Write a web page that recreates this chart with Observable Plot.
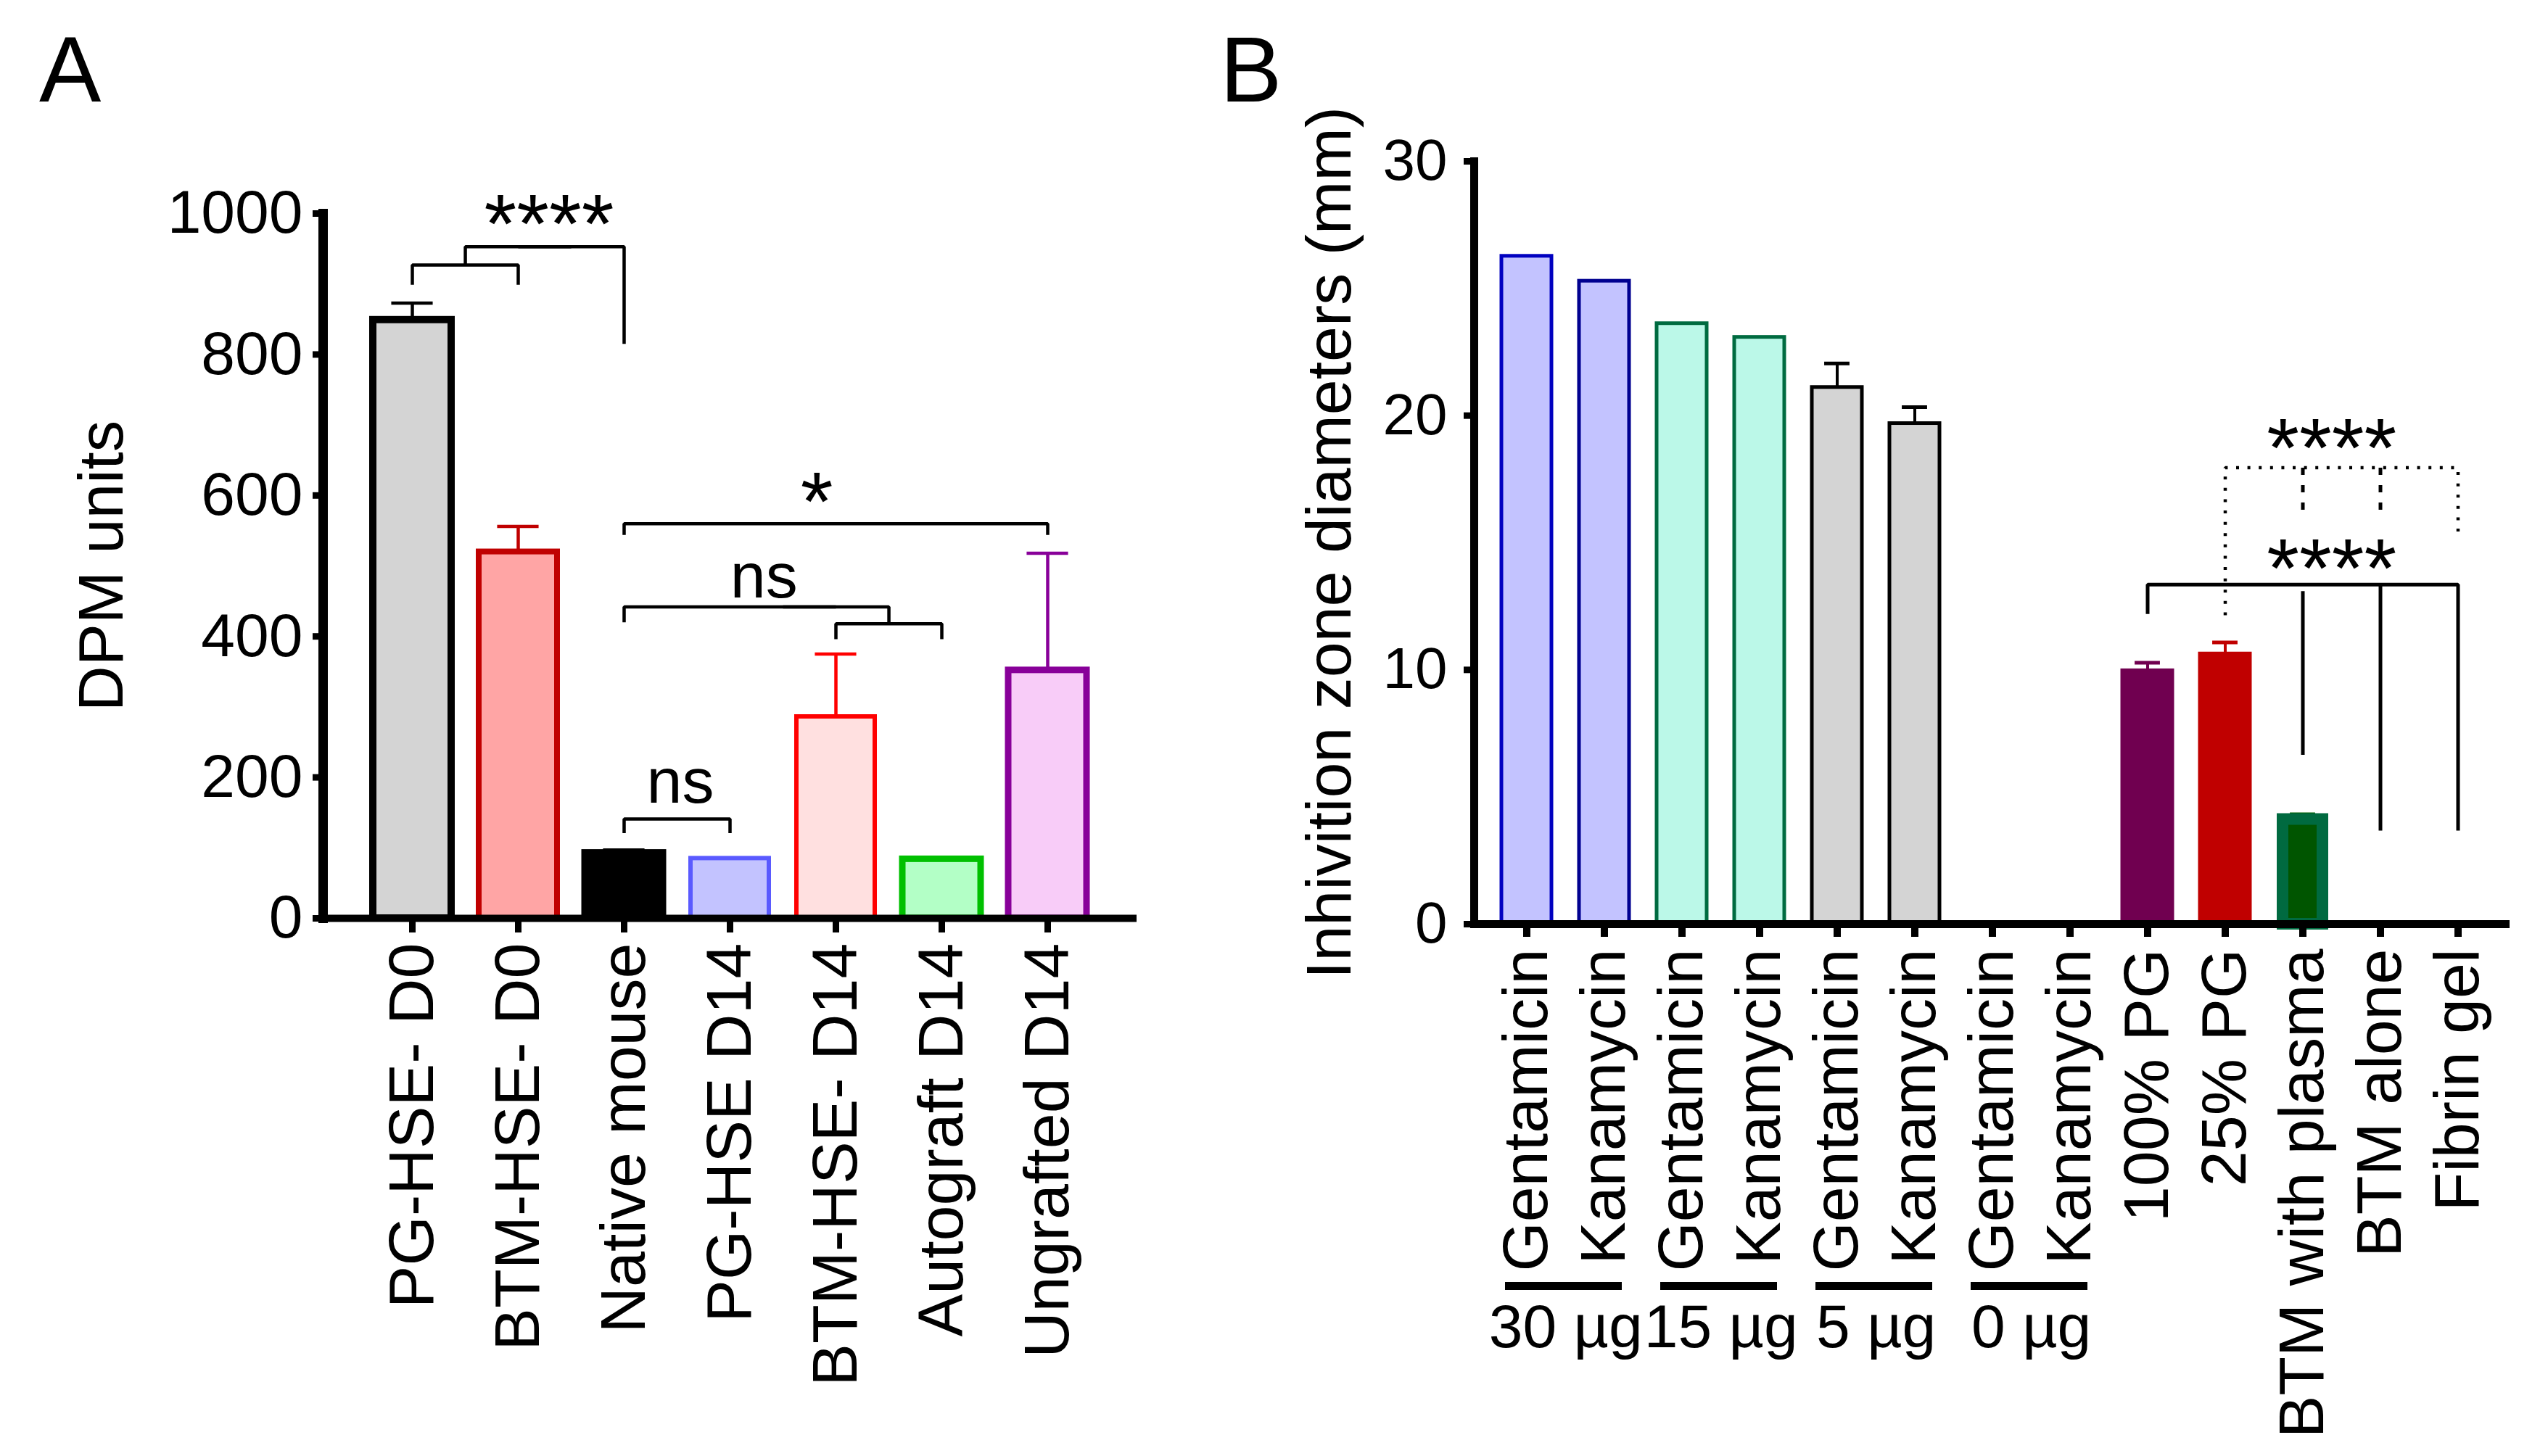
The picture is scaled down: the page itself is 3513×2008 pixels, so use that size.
<!DOCTYPE html>
<html>
<head>
<meta charset="utf-8">
<script src="https://cdn.jsdelivr.net/npm/d3@7"></script>
<script src="https://cdn.jsdelivr.net/npm/@observablehq/plot@0.6"></script>
<style>
  body { margin: 0; background: #fff; }
  #fig { position: relative; width: 3513px; height: 2008px; background: #fff;
         font-family: "Liberation Sans", Arial, sans-serif; }
  #fig svg { position: absolute; top: 0; max-width: none; }
  .panel { position: absolute; font-size: 128px; line-height: 1; }
</style>
</head>
<body>
<div id="fig">
  <div class="panel" style="left:54px;top:32px">A</div>
  <div class="panel" style="left:1682px;top:32px">B</div>
</div>
<script>
const font = '"Liberation Sans", Arial, sans-serif'

// ---- Panel A : DPM units
const namesA = ["PG-HSE- D0", "BTM-HSE- D0", "Native mouse", "PG-HSE D14", "BTM-HSE- D14", "Autograft D14", "Ungrafted D14"]
const meanA = [849, 520, 93, 85, 286, 84, 352]
const errA = [24, 36, 4, 0, 89, 0, 166]
const ticksA = [0, 200, 400, 600, 800, 1000]
const fillA = ["#d4d4d4", "#ffa5a5", "#000000", "#c3c3ff", "#ffe0e0", "#b3ffc6", "#f8ccf8"]
const strokeA = ["#000000", "#c00000", "#000000", "#5a5aff", "#ff0000", "#00c000", "#880099"]
const lineA = [10, 8, 9, 6, 6, 9, 9]

// brackets, as [category index, DPM] vertices
const bracketsA = [
  [[0, 899], [0, 927], [1, 927], [1, 899]],
  [[1, 953], [2, 953], [2, 815]],
  [[2, 544], [2, 560], [6, 560], [6, 544]],
  [[2, 420], [2, 442], [4, 442]],
  [[4, 396], [4, 418], [5, 418], [5, 396]],
  [[2, 121], [2, 141], [3, 141], [3, 121]]
]
// these ones sit half a category to the right
const halfBracketsA = [
  [[0, 927], [0, 953], [1, 953]],
  [[3, 442], [4, 442], [4, 418]]
]
const notesA = [
  {text: "****", at: 1, shift: 0.29, y: 945, size: 115},
  {text: "*", at: 4, shift: -0.18, y: 551, size: 115},
  {text: "ns", at: 3, shift: 0.32, y: 455, size: 88},
  {text: "ns", at: 2, shift: 0.53, y: 164, size: 88}
]

// ---- Panel B : inhibition zones
const keysB = ["G30", "K30", "G15", "K15", "G5", "K5", "G0", "K0", "PG100", "PG25", "BTMp", "BTMa", "Fib"]
const labelsB = ["Gentamicin", "Kanamycin", "Gentamicin", "Kanamycin", "Gentamicin", "Kanamycin", "Gentamicin", "Kanamycin", "100% PG", "25% PG", "BTM with plasma", "BTM alone", "Fibrin gel"]
const meanB = [26.27, 25.29, 23.62, 23.08, 21.11, 19.69, 0, 0, 9.97, 10.63, 4.12, 0, 0]
const errB = [0, 0, 0, 0, 0.94, 0.64, 0, 0, 0.31, 0.45, 0.2, 0, 0]
const doseB = ["30 µg", "15 µg", "5 µg", "0 µg"]
const ticksB = [0, 10, 20, 30]
const fillB = ["#c3c3ff", "#c3c3ff", "#bbf8e8", "#bbf8e8", "#d4d4d4", "#d4d4d4", "none", "none", "#700050", "#c00000", "#005500", "none", "none"]
const strokeB = ["#0000c0", "#000090", "#006b40", "#006b40", "#000000", "#000000", "#000000", "#000000", "#700050", "#c00000", "#006a40", "#000000", "#000000"]
const errColB = ["#000", "#000", "#000", "#000", "#000", "#000", "#000", "#000", "#700050", "#c00000", "#006000", "#000", "#000"]

const bracketsB = [
  [[8, 12.2], [8, 13.35], [12, 13.35], [12, 3.68]],
  [[10, 13.1], [10, 6.66]],
  [[11, 13.35], [11, 3.68]]
]
const dottedB = [[[9, 12.15], [9, 17.95], [12, 17.95], [12, 15.27]]]
const dashedB = [[[10, 17.95], [10, 16.22]], [[11, 17.95], [11, 16.22]]]
const notesB = [
  {text: "****", at: 10, shift: 0.37, y: 17.62, size: 115},
  {text: "****", at: 10, shift: 0.37, y: 12.88, size: 115}
]

const pts = (lines, names) => lines.flatMap((l, j) => l.map(([i, v]) => ({x: names[i], y: v, z: j})))
const seg = {x: "x", y: "y", z: "z", stroke: "black", strokeLinecap: "butt", strokeLinejoin: "miter"}

// band geometry, only used for offsets of caps and half steps
const pinA = 0.262, poutA = 0.47
const stepA = (1700 - 445 - 133) / (namesA.length - pinA + 2 * poutA)
const bwA = stepA * (1 - pinA)
const pinB = 0.356, poutB = 0.33
const stepB = (1813 - 332 - 53) / (keysB.length - pinB + 2 * poutB)
const bwB = stepB * (1 - pinB)

const rowsA = namesA.map((name, i) => ({name, mean: meanA[i], top: meanA[i] + errA[i], fill: fillA[i], stroke: strokeA[i], sw: lineA[i]}))
const errRowsA = rowsA.filter(d => d.top > d.mean)

let chartA = Plot.plot({
  width: 1700, height: 2008,
  marginLeft: 445, marginRight: 133, marginTop: 294, marginBottom: 742,
  style: {fontFamily: font, background: "transparent", overflow: "visible"},
  x: {type: "band", domain: namesA, paddingInner: pinA, paddingOuter: poutA, label: null},
  y: {domain: [0, 1000], label: null},
  color: {type: "identity"},
  marks: [
    Plot.ruleX(errRowsA, {x: "name", y1: "mean", y2: "top", stroke: "stroke", strokeWidth: 4.5}),
    Plot.tickY(errRowsA, {x: "name", y: "top", stroke: "stroke", strokeWidth: 4.5, insetLeft: (bwA - 57) / 2, insetRight: (bwA - 57) / 2}),
    Plot.barY(rowsA, {x: "name", y: "mean", fill: "fill", stroke: "stroke", strokeWidth: "sw"}),
    Plot.line(pts(bracketsA, namesA), {...seg, strokeWidth: 4.5}),
    Plot.line(pts(halfBracketsA, namesA), {...seg, strokeWidth: 4.5, dx: stepA / 2}),
    ...notesA.map(n => Plot.text([n], {x: d => namesA[d.at], y: "y", text: "text", dx: n.shift * stepA, fontSize: n.size, lineAnchor: "bottom"})),
    Plot.axisY({ticks: ticksA, tickFormat: d3.format("d"), tickSize: 14, tickPadding: 14, strokeWidth: 9, fontSize: 84, label: null}),
    Plot.axisX({tickSize: 20, tickPadding: 14, tickRotate: -90, strokeWidth: 9, fontSize: 88, label: null}),
    Plot.frame({anchor: "left", strokeWidth: 13}),
    Plot.ruleY([0], {strokeWidth: 10, insetLeft: -6}),
    Plot.text(["DPM units"], {frameAnchor: "left", dx: -304, rotate: -90, textAnchor: "middle", lineAnchor: "middle", fontSize: 87})
  ]
})

const rowsB = keysB.map((key, i) => ({key, mean: meanB[i], top: meanB[i] + errB[i], fill: fillB[i], stroke: strokeB[i], err: errColB[i]}))
const errRowsB = rowsB.filter(d => d.top > d.mean)
const groupsB = doseB.map((label, g) => ({label, from: keysB[2 * g], to: keysB[2 * g + 1]}))

let chartB = Plot.plot({
  width: 1813, height: 2008,
  marginLeft: 332, marginRight: 53, marginTop: 222, marginBottom: 734,
  style: {fontFamily: font, background: "transparent", overflow: "visible"},
  x: {type: "band", domain: keysB, paddingInner: pinB, paddingOuter: poutB, label: null},
  y: {domain: [0, 30], label: null},
  color: {type: "identity"},
  marks: [
    Plot.ruleX(errRowsB, {x: "key", y1: "mean", y2: "top", stroke: "err", strokeWidth: 4}),
    Plot.tickY(errRowsB, {x: "key", y: "top", stroke: "err", strokeWidth: 5, insetLeft: (bwB - 35) / 2, insetRight: (bwB - 35) / 2}),
    Plot.barY(rowsB.filter(d => d.mean > 0 && d.key !== "BTMp"), {x: "key", y: "mean", fill: "fill", stroke: "stroke", strokeWidth: 5}),
    Plot.barY(rowsB.filter(d => d.key === "BTMp"), {x: "key", y: "mean", fill: "fill", stroke: "stroke", strokeWidth: 16, insetLeft: 7, insetRight: 7}),
    Plot.line(pts(bracketsB, keysB), {...seg, strokeWidth: 5}),
    Plot.line(pts(dottedB, keysB), {...seg, strokeWidth: 4.5, strokeDasharray: "4,11.6"}),
    Plot.line(pts(dashedB, keysB), {...seg, strokeWidth: 5, strokeDasharray: "10,14"}),
    ...notesB.map(n => Plot.text([n], {x: d => keysB[d.at], y: "y", text: "text", dx: n.shift * stepB, fontSize: n.size, lineAnchor: "bottom"})),
    Plot.axisY({ticks: ticksB, tickSize: 14, tickPadding: 23, strokeWidth: 9, fontSize: 80, label: null}),
    Plot.axisX({tickSize: 18, tickPadding: 16, tickRotate: -90, strokeWidth: 10, fontSize: 88, label: null,
      tickFormat: k => labelsB[keysB.indexOf(k)]}),
    Plot.frame({anchor: "left", strokeWidth: 11}),
    Plot.ruleY([0], {strokeWidth: 11, insetLeft: -5}),
    Plot.ruleY(groupsB, {x1: "from", x2: "to", y: () => 0, dy: 499, strokeWidth: 11, insetLeft: 5, insetRight: 10}),
    Plot.text(groupsB, {x: "from", y: () => 0, text: "label", dx: stepB / 2, dy: 583, lineAnchor: "bottom", fontSize: 84}),
    Plot.text(["Inhivition zone diameters (mm)"], {frameAnchor: "left", dx: -199, rotate: -90, textAnchor: "middle", lineAnchor: "middle", fontSize: 88})
  ]
})

chartA.style.left = "0px"
chartB.style.left = "1700px"
d3.select("#fig").append(() => chartA)
d3.select("#fig").append(() => chartB)
</script>
</body>
</html>
